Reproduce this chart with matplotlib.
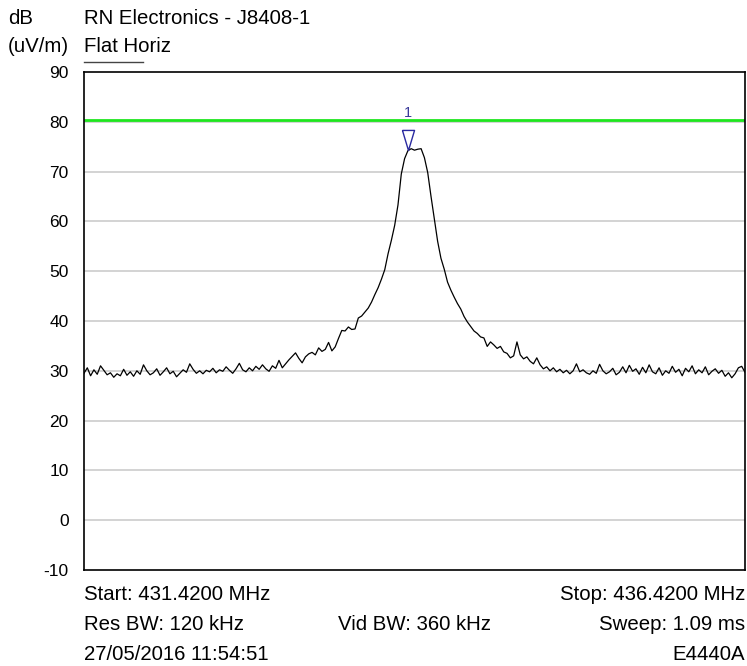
import numpy as np
import matplotlib
matplotlib.use("Agg")
import matplotlib.pyplot as plt
from matplotlib.transforms import offset_copy

# ---- data ----
start_mhz = 431.42
stop_mhz = 436.42
y_ticks = [-10, 0, 10, 20, 30, 40, 50, 60, 70, 80, 90]
limit_db = 80.4
levels = [
    29.5, 30.6, 29.0, 30.2, 29.3, 31.0, 30.1, 29.2, 29.6, 28.7,
    29.4, 29.0, 30.3, 29.1, 29.8, 28.9, 30.0, 29.3, 31.2, 30.0,
    29.2, 29.6, 30.4, 29.1, 29.8, 30.6, 29.4, 29.9, 28.8, 29.5,
    30.2, 29.7, 31.4, 30.3, 29.5, 30.0, 29.4, 30.1, 29.8, 30.5,
    29.6, 30.2, 29.9, 30.8, 30.1, 29.5, 30.4, 31.5, 30.2, 29.8,
    30.6, 30.0, 30.9, 30.3, 31.2, 30.4, 29.9, 31.0, 30.5, 32.1,
    30.6, 31.4, 32.2, 32.9, 33.6, 32.5, 31.6, 32.8, 33.4, 33.7,
    33.2, 34.6, 33.9, 34.3, 35.7, 34.0, 34.8, 36.5, 38.1, 38.0,
    38.8, 38.3, 38.4, 40.6, 41.0, 41.8, 42.6, 43.8, 45.3, 46.7,
    48.4, 50.3, 53.5, 56.2, 59.2, 63.3, 69.5, 72.6, 74.2, 74.6,
    74.3, 74.5, 74.6, 72.8, 69.8, 65.0, 60.5, 56.0, 52.6, 50.4,
    47.8, 46.2, 44.8, 43.5, 42.4, 40.9, 39.8, 38.9, 38.0, 37.5,
    36.8, 36.6, 34.9, 35.8, 35.2, 34.5, 34.9, 33.8, 33.5, 32.6,
    33.0, 35.8, 33.2, 32.4, 32.8, 31.9, 31.4, 32.6, 31.2, 30.4,
    30.8, 30.0, 30.6, 29.8, 30.3, 29.6, 30.1, 29.4, 30.0, 31.4,
    29.8, 30.2, 29.6, 29.3, 30.0, 29.5, 31.3, 30.0, 29.4, 29.8,
    30.5, 29.2, 29.7, 30.8, 29.6, 31.1, 29.9, 30.4, 29.3, 30.7,
    29.6, 31.2, 29.8, 29.4, 30.6, 29.1, 30.0, 29.5, 30.9, 29.7,
    30.3, 29.0, 30.5, 29.8, 31.0, 29.4, 30.2, 29.6, 30.8, 29.2,
    29.9, 30.4, 29.5, 30.1, 28.9, 29.6, 28.6, 29.4, 30.6, 30.9,
    29.7,
]
marker_index = 98
marker_label = "1"

freqs = np.linspace(start_mhz, stop_mhz, len(levels))

# ---- figure ----
plt.rcParams['font.family'] = ['Liberation Sans', 'DejaVu Sans']
fig = plt.figure(figsize=(7.47, 6.66), dpi=100)
ax = fig.add_axes([84/747, 1-570/666, (745-84)/747, (570-72)/666])
ax.set_xlim(start_mhz, stop_mhz)
ax.set_ylim(-10, 90)
ax.set_yticks(y_ticks)
ax.set_yticklabels([str(v) for v in y_ticks], fontsize=12.5)
ax.set_xticks([])
ax.tick_params(axis='y', length=0, pad=11)
for v in y_ticks[1:-1]:
    ax.axhline(v, color='#cccccc', lw=1.2, zorder=1)
for s in ax.spines.values():
    s.set_linewidth(1.2)
    s.set_color('black')

ax.axhline(limit_db, color='#1ee61e', lw=2, zorder=2)
ax.plot(freqs, levels, color='black', lw=0.9, zorder=3)

mf = freqs[marker_index]
ml = levels[marker_index]
tri = [(-0.6, 1), (0.6, 1), (0, -1), (-0.6, 1)]
tr = offset_copy(ax.transData, fig=fig, x=0, y=7.4, units='points')
ax.plot([mf], [ml], marker=tri, markersize=14.5, markerfacecolor='none',
        markeredgecolor='#2a2aa0', markeredgewidth=1.0, transform=tr, zorder=4)
tr2 = offset_copy(ax.transData, fig=fig, x=0, y=27, units='points')
ax.text(mf, ml, marker_label, transform=tr2, ha='center', va='center',
        color='#3a3a9a', fontsize=10.5)

W, H = 747, 666
def ft(x, y, s, ha='left'):
    fig.text(x/W, 1-y/H, s, ha=ha, va='center', fontsize=14.7, color='black')

ft(8, 18, "dB")
ft(84, 18, "RN Electronics - J8408-1")
ft(8, 47, "(uV/m)")
ft(84, 47, "Flat Horiz")
fig.add_artist(plt.Line2D([84/W, 143/W], [1-62/H, 1-62/H], color='#444444', lw=1))

ft(84, 594, "Start: 431.4200 MHz")
ft(745, 594, "Stop: 436.4200 MHz", ha='right')
ft(84, 624, "Res BW: 120 kHz")
ft(415, 624, "Vid BW: 360 kHz", ha='center')
ft(745, 624, "Sweep: 1.09 ms", ha='right')
ft(84, 654, "27/05/2016 11:54:51")
ft(745, 654, "E4440A", ha='right')

fig.savefig("out.png", dpi=100)
